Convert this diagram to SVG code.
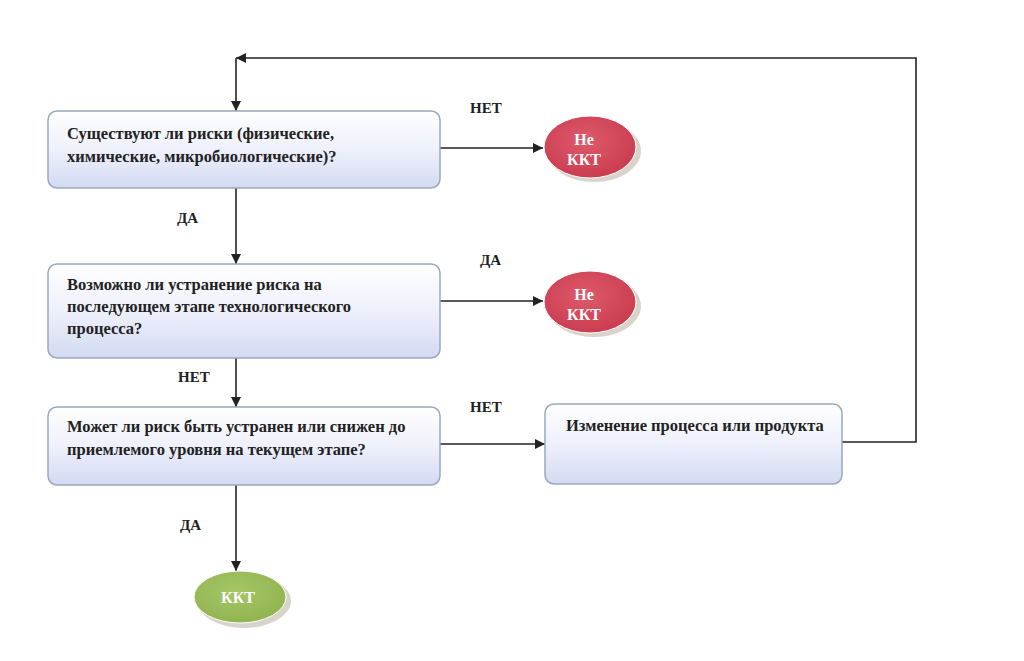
<svg xmlns="http://www.w3.org/2000/svg" width="1024" height="661" viewBox="0 0 1024 661">
<defs>
<linearGradient id="boxg" x1="0" y1="0" x2="0" y2="1">
<stop offset="0" stop-color="#ffffff"/>
<stop offset="0.5" stop-color="#eef0fb"/>
<stop offset="1" stop-color="#d3daf2"/>
</linearGradient>
<radialGradient id="redg" cx="0.45" cy="0.4" r="0.65">
<stop offset="0" stop-color="#de5b6c"/>
<stop offset="1" stop-color="#c93a4e"/>
</radialGradient>
<radialGradient id="greeng" cx="0.45" cy="0.4" r="0.65">
<stop offset="0" stop-color="#a7c668"/>
<stop offset="1" stop-color="#8fb34e"/>
</radialGradient>
<marker id="arr" viewBox="0 0 10 10" refX="10" refY="5" markerWidth="10" markerHeight="10" markerUnits="userSpaceOnUse" orient="auto">
<path d="M0,0 L10,5 L0,10 z" fill="#222"/>
</marker>
</defs>
<style>
.box{fill:url(#boxg);stroke:#9aa9bd;stroke-width:1.5}
.t{font-weight:bold;font-size:16.5px;fill:#222}
.lbl{font-weight:bold;font-size:15px;fill:#222}
.ct{font-weight:bold;font-size:16px;fill:#fff;text-anchor:middle}
.sh{fill:#d8d4cc}
.ln{stroke:#222;stroke-width:1.6;fill:none}
</style>
<rect width="1024" height="661" fill="#ffffff"/>
<g font-family="Liberation Serif, Times New Roman, serif">
<g id="connectors">
<path class="ln" d="M842,442 H916 V58 H236" marker-end="url(#arr)"/>
<path class="ln" d="M236,58 V111" marker-end="url(#arr)"/>
<path class="ln" d="M440,148 H543" marker-end="url(#arr)"/>
<path class="ln" d="M236,188 V264" marker-end="url(#arr)"/>
<path class="ln" d="M440,301 H543" marker-end="url(#arr)"/>
<path class="ln" d="M236,358 V407" marker-end="url(#arr)"/>
<path class="ln" d="M440,444 H545" marker-end="url(#arr)"/>
<path class="ln" d="M236,485 V571" marker-end="url(#arr)"/>
<text class="lbl" x="470" y="113">НЕТ</text>
<text class="lbl" x="177" y="223">ДА</text>
<text class="lbl" x="480" y="265">ДА</text>
<text class="lbl" x="178" y="382">НЕТ</text>
<text class="lbl" x="470" y="412">НЕТ</text>
<text class="lbl" x="180" y="530">ДА</text>
</g>
<g id="q1">
<rect class="box" x="48" y="111" width="392" height="77" rx="9"/>
<text class="t" x="67" y="139">Существуют ли риски (физические,</text>
<text class="t" x="67" y="162">химические, микробиологические)?</text>
</g>
<g id="q2">
<rect class="box" x="48" y="264" width="392" height="94" rx="9"/>
<text class="t" x="67" y="290">Возможно ли устранение риска на</text>
<text class="t" x="67" y="312">последующем этапе технологического</text>
<text class="t" x="67" y="334">процесса?</text>
</g>
<g id="q3">
<rect class="box" x="48" y="407" width="392" height="78" rx="9"/>
<text class="t" x="67" y="432">Может ли риск быть устранен или снижен до</text>
<text class="t" x="67" y="455">приемлемого уровня на текущем этапе?</text>
</g>
<g id="change">
<rect class="box" x="545" y="404" width="297" height="80" rx="9"/>
<text class="t" x="566" y="431">Изменение процесса или продукта</text>
</g>
<g id="notccp1">
<ellipse class="sh" cx="594" cy="151" rx="47" ry="31"/>
<ellipse cx="590" cy="147" rx="46" ry="31" fill="url(#redg)" stroke="#ffffff" stroke-width="1"/>
<text class="ct" x="584" y="145">Не</text>
<text class="ct" x="584" y="165">ККТ</text>
</g>
<g id="notccp2">
<ellipse class="sh" cx="594" cy="306" rx="47" ry="31"/>
<ellipse cx="590" cy="302" rx="46" ry="31" fill="url(#redg)" stroke="#ffffff" stroke-width="1"/>
<text class="ct" x="584" y="300">Не</text>
<text class="ct" x="584" y="320">ККТ</text>
</g>
<g id="ccp">
<ellipse class="sh" cx="244" cy="601" rx="47" ry="27"/>
<ellipse cx="240" cy="597" rx="46" ry="26" fill="url(#greeng)" stroke="#ffffff" stroke-width="1"/>
<text class="ct" x="238" y="603">ККТ</text>
</g>
</g>
</svg>
